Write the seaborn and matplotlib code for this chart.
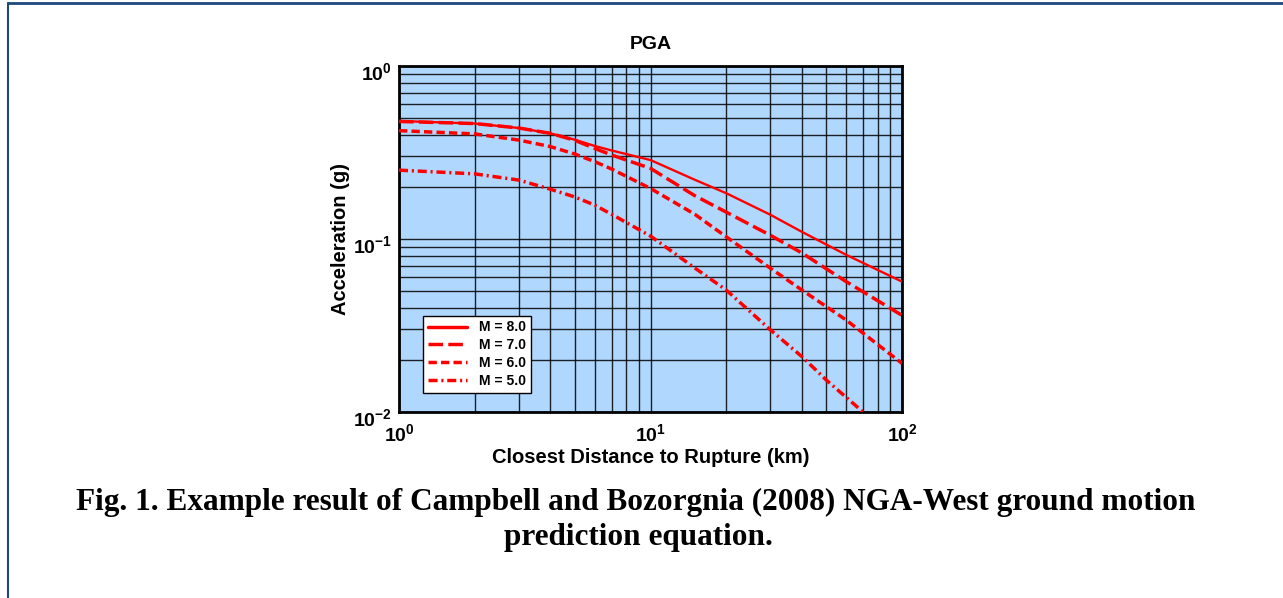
import matplotlib
matplotlib.use("Agg")
import matplotlib.pyplot as plt
import matplotlib.transforms as mtransforms
import seaborn as sns
import pandas as pd
import numpy as np
from matplotlib.lines import Line2D
from matplotlib.ticker import LogLocator, NullFormatter, FuncFormatter, FixedLocator

# distances (km)
dist = [1, 2, 3, 4, 5, 6, 7, 10, 15, 20, 30, 40, 60, 100]
pga_m8 = [0.481, 0.465, 0.438, 0.408, 0.375, 0.345, 0.325, 0.286, 0.220, 0.184, 0.138, 0.110, 0.081, 0.0567]
pga_m7 = [0.478, 0.465, 0.438, 0.408, 0.372, 0.334, 0.306, 0.256, 0.178, 0.143, 0.105, 0.083, 0.0567, 0.0362]
pga_m6 = [0.423, 0.405, 0.373, 0.342, 0.310, 0.280, 0.254, 0.196, 0.139, 0.103, 0.0677, 0.0507, 0.034, 0.0191]
dist_m5 = [1, 2, 3, 4, 5, 6, 7, 10, 15, 20, 30, 40, 50, 70]
pga_m5 = [0.250, 0.238, 0.219, 0.194, 0.175, 0.157, 0.139, 0.104, 0.068, 0.0507, 0.0298, 0.0209, 0.0153, 0.0100]

labels = ["M = 8.0", "M = 7.0", "M = 6.0", "M = 5.0"]
major_ticks_x = [1, 10, 100]
major_ticks_y = [0.01, 0.1, 1]

frames = []
for lab, d, v in zip(labels, [dist, dist, dist, dist_m5], [pga_m8, pga_m7, pga_m6, pga_m5]):
    frames.append(pd.DataFrame({"dist": d, "pga": v, "mag": lab}))
df = pd.concat(frames, ignore_index=True)

sns.set_style("white")
plt.rcParams["font.family"] = ["Liberation Sans", "DejaVu Sans"]
plt.rcParams["text.color"] = "black"
plt.rcParams["axes.labelcolor"] = "black"
plt.rcParams["xtick.color"] = "black"
plt.rcParams["ytick.color"] = "black"
plt.rcParams["mathtext.fontset"] = "custom"
plt.rcParams["mathtext.rm"] = "Liberation Sans:bold"
plt.rcParams["mathtext.bf"] = "Liberation Sans:bold"
plt.rcParams["mathtext.it"] = "Liberation Sans:bold"
plt.rcParams["mathtext.sf"] = "Liberation Sans:bold"

fig = plt.figure(figsize=(12.83, 5.98), dpi=100)
ax = fig.add_axes([399/1283, 1-412/598, (902-399)/1283, (412-66)/598])
ax.set_facecolor("#B0D8FF")

styles = {
    "M = 8.0": dict(ls="-", lw=1.7),
    "M = 7.0": dict(ls=(0, (4.2, 1.5)), lw=2.5),
    "M = 6.0": dict(ls=(0, (2.4, 1.2)), lw=2.5),
    "M = 5.0": dict(ls=(0, (2.6, 1.1, 0.6, 1.1)), lw=2.5),
}

handles = []
for lab in labels:
    sub = df[df["mag"] == lab]
    st = styles[lab]
    sns.lineplot(data=sub, x="dist", y="pga", ax=ax, color="#FF0000",
                 linestyle=st["ls"], linewidth=st["lw"], legend=False, zorder=5)
    handles.append(Line2D([0], [0], color="#FF0000", linestyle=st["ls"],
                          linewidth=2.5 if lab == "M = 8.0" else st["lw"]))

ax.set_xscale("log")
ax.set_yscale("log")
ax.set_xlim(1, 100)
ax.set_ylim(0.01, 1)
ax.xaxis.set_major_locator(FixedLocator(major_ticks_x))
ax.yaxis.set_major_locator(FixedLocator(major_ticks_y))
ax.xaxis.set_minor_locator(LogLocator(base=10, subs=np.arange(2, 10), numticks=20))
ax.yaxis.set_minor_locator(LogLocator(base=10, subs=np.arange(2, 10), numticks=20))
ax.xaxis.set_minor_formatter(NullFormatter())
ax.yaxis.set_minor_formatter(NullFormatter())
fmt = FuncFormatter(lambda v, p: r"$\mathbf{10^{%d}}$" % int(round(np.log10(v))))
ax.xaxis.set_major_formatter(fmt)
ax.yaxis.set_major_formatter(fmt)
ax.grid(True, which="both", color="#000000", linewidth=1.0, alpha=0.85)
ax.set_axisbelow(True)
for sp in ax.spines.values():
    sp.set_linewidth(2.0)
    sp.set_color("black")
ax.tick_params(which="both", length=0, labelsize=14)
ax.tick_params(axis="x", pad=8)
ax.tick_params(axis="y", pad=5)

ax.set_xlabel("Closest Distance to Rupture (km)", fontsize=14.5, fontweight="bold", labelpad=2)
ax.set_ylabel("Acceleration (g)", fontsize=14.5, fontweight="bold", labelpad=2)
ax.set_title("PGA", fontsize=14, fontweight="bold", pad=12)

leg = ax.legend(handles, labels, loc="lower left", bbox_to_anchor=(0.048, 0.055),
                prop={"weight": "bold", "size": 10}, fancybox=False, framealpha=1,
                edgecolor="black", handlelength=2.8, labelspacing=0.28,
                borderpad=0.35, handletextpad=0.85, borderaxespad=0)
leg.get_frame().set_linewidth(1.0)
leg.set_zorder(10)

fig.text(636/1283, 1-502/598,
         "Fig. 1. Example result of Campbell and Bozorgnia (2008) NGA-West ground motion",
         ha="center", va="center", fontsize=22.5, fontweight="bold", family=["Liberation Serif"])
fig.text(638/1283, 1-538/598, "prediction equation.",
         ha="center", va="center", fontsize=22.5, fontweight="bold", family=["Liberation Serif"])

# page border lines (top and left)
fig.add_artist(Line2D([8/1283, 1], [1-3/598, 1-3/598], transform=fig.transFigure, color="#1F497D", lw=2))
fig.add_artist(Line2D([8/1283, 8/1283], [0, 1-3/598], transform=fig.transFigure, color="#1F497D", lw=1.5))

# y tick labels sit slightly below their gridlines in the reference
fig.canvas.draw()
off = mtransforms.ScaledTranslation(0, -5/100, fig.dpi_scale_trans)
for lbl in ax.get_yticklabels():
    lbl.set_transform(lbl.get_transform() + off)

fig.savefig("out.png", dpi=100)
